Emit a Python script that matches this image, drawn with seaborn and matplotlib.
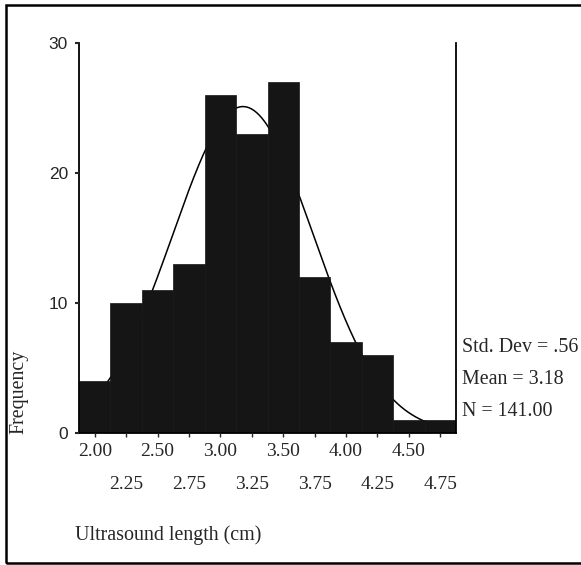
import numpy as np
import pandas as pd
import matplotlib
matplotlib.use("Agg")
import matplotlib.pyplot as plt
import seaborn as sns
from matplotlib.patches import Rectangle

# ---- data ----
bin_centers = [2.00, 2.25, 2.50, 2.75, 3.00, 3.25, 3.50, 3.75, 4.00, 4.25, 4.50, 4.75]
frequencies = [4, 10, 11, 13, 26, 23, 27, 12, 7, 6, 1, 1]
tick_labels = ["2.00", "2.25", "2.50", "2.75", "3.00", "3.25", "3.50", "3.75", "4.00", "4.25", "4.50", "4.75"]
y_ticks = [0, 10, 20, 30]
std_dev = 0.56
mean = 3.18
n_total = 141
bin_width = 0.25

sns.set_style("ticks")
plt.rcParams["font.family"] = ["Liberation Serif", "DejaVu Serif"]

fig = plt.figure(figsize=(5.81, 5.65), dpi=100)
ax = fig.add_axes([79 / 581, 132 / 565, 377 / 581, 390 / 565])

# fitted normal curve from the reported statistics (drawn behind the bars)
edges = [c - bin_width / 2 for c in bin_centers] + [bin_centers[-1] + bin_width / 2]
xs = np.linspace(edges[0], edges[-1], 300)
ys = n_total * bin_width / (std_dev * np.sqrt(2 * np.pi)) * np.exp(-0.5 * ((xs - mean) / std_dev) ** 2)
sns.lineplot(x=xs, y=ys, ax=ax, color="black", linewidth=1.1, zorder=1)

df = pd.DataFrame({"length": bin_centers, "count": frequencies})
sns.histplot(data=df, x="length", weights="count", bins=edges, ax=ax,
             color="#151515", alpha=1.0, edgecolor="#151515", linewidth=0.5, zorder=2)

ax.set_xlim(edges[0], edges[-1])
ax.set_ylim(0, 30)
ax.set_xlabel("")
ax.set_ylabel("")

ax.set_xticks(bin_centers[0::2], tick_labels[0::2])
ax.set_xticks(bin_centers[1::2], tick_labels[1::2], minor=True)
ax.tick_params(axis="x", which="major", length=3, width=1, pad=4, labelsize=14)
ax.tick_params(axis="x", which="minor", length=3, width=1, pad=28, labelsize=14)
ax.set_yticks(y_ticks)
ax.set_yticklabels([str(v) for v in y_ticks], family=["Liberation Sans", "DejaVu Sans"], fontsize=12.5)
ax.tick_params(axis="y", length=3, width=1.5, pad=5)

for side in ["left", "right", "bottom"]:
    ax.spines[side].set_visible(True)
    ax.spines[side].set_color("black")
    ax.spines[side].set_linewidth(1.3)
ax.spines["top"].set_visible(False)
ax.set_axisbelow(False)

fig.text(19 / 581, 1 - 392 / 565, "Frequency", rotation=90, ha="center", va="center", fontsize=14.4)
fig.text(75 / 581, 1 - 535 / 565, "Ultrasound length (cm)", ha="left", va="center", fontsize=14.4)

stats = [f"Std. Dev = {std_dev:.2f}".replace("0.", "."), f"Mean = {mean:.2f}", f"N = {n_total:.2f}"]
for i, s in enumerate(stats):
    fig.text(462 / 581, 1 - (348 + 32 * i) / 565, s, ha="left", va="center", fontsize=14.4)

fig.patches.append(Rectangle((6 / 581, 2 / 565), 1.0, 558 / 565, transform=fig.transFigure,
                             fill=False, edgecolor="black", linewidth=1.8))

fig.savefig("out.png", dpi=100, facecolor="white")
